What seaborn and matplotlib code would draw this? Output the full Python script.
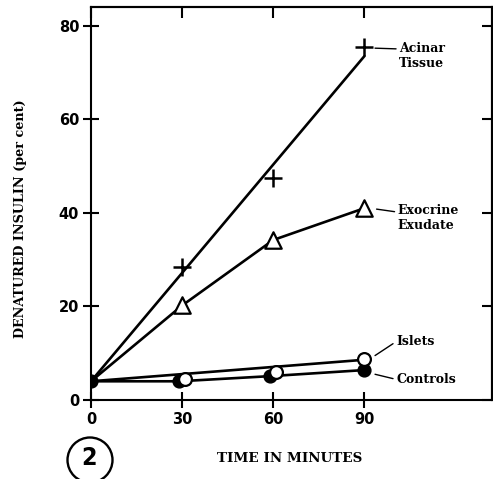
import matplotlib
matplotlib.use("Agg")
import matplotlib.pyplot as plt
import seaborn as sns
from matplotlib.patches import Ellipse

# Data
time = [0, 30, 60, 90]
acinar = [4, 28.5, 47.5, 75.5]
acinar_line_time = [0, 90]
acinar_line = [4, 73.5]
exocrine = [4, 20.2, 34.2, 41.0]
islets_time = [0, 31, 61, 90]
islets = [4, 4.5, 6.0, 8.8]
islets_line_time = [0, 90]
islets_line = [4, 8.6]
controls_time = [0, 29, 59, 90]
controls = [4, 4.0, 5.1, 6.4]

x_ticks = [0, 30, 60, 90]
y_ticks = [0, 20, 40, 60, 80]

sns.set_style("ticks")
plt.rcParams['font.family'] = ['DejaVu Serif']
plt.rcParams['text.color'] = 'black'
plt.rcParams['xtick.color'] = 'black'
plt.rcParams['ytick.color'] = 'black'
plt.rcParams['axes.edgecolor'] = 'black'

fig = plt.figure(figsize=(4.93, 4.79), dpi=100)
ax = fig.add_axes([91/493, 1-400/479, (492-91)/493, (400-7)/479])

lw = 1.9
k = "black"

# Acinar tissue
sns.lineplot(x=acinar_line_time, y=acinar_line, ax=ax, color=k, lw=lw)
sns.scatterplot(x=time[1:], y=acinar[1:], ax=ax, marker="+", s=150, color=k, linewidth=1.8, zorder=5)

# Exocrine exudate
sns.lineplot(x=time, y=exocrine, ax=ax, color=k, lw=lw)
sns.scatterplot(x=time[1:], y=exocrine[1:], ax=ax, marker="^", s=140, facecolor="white", edgecolor=k, linewidth=1.6, zorder=5)

# Controls
sns.lineplot(x=controls_time, y=controls, ax=ax, color=k, lw=lw)
sns.scatterplot(x=controls_time, y=controls, ax=ax, marker="o", s=85, color=k, edgecolor=k, linewidth=1, zorder=5)

# Islets
sns.lineplot(x=islets_line_time, y=islets_line, ax=ax, color=k, lw=lw)
sns.scatterplot(x=islets_time[1:], y=islets[1:], ax=ax, marker="o", s=85, facecolor="white", edgecolor=k, linewidth=1.6, zorder=6)

ax.set_xlim(0, 132)
ax.set_ylim(0, 84)
ax.set_xticks(x_ticks)
ax.set_yticks(y_ticks)
ax.set_xticklabels([str(t) for t in x_ticks], fontsize=10.5, fontweight="bold", family="DejaVu Sans")
ax.set_yticklabels([str(t) for t in y_ticks], fontsize=10.5, fontweight="bold", family="DejaVu Sans")
ax.tick_params(axis="both", direction="inout", length=11, width=1.5, color=k, pad=3)

for s in ax.spines.values():
    s.set_visible(True)
    s.set_linewidth(1.5)
    s.set_color(k)

sx = ax.secondary_xaxis("top")
sx.set_xticks(x_ticks)
sx.tick_params(direction="in", length=8, width=1.5, labeltop=False)
sx.spines["top"].set_linewidth(1.5)
sy = ax.secondary_yaxis("right")
sy.set_yticks(y_ticks)
sy.tick_params(direction="in", length=7, width=1.5, labelright=False)
sy.spines["right"].set_linewidth(1.5)

ax.set_xlabel("")
ax.set_ylabel("")

fs = 9
tw = "bold"
# Labels with leader lines
ax.annotate("Acinar\nTissue", xy=(93.5, 75.2), xytext=(101.5, 76.5), fontsize=fs, fontweight=tw,
            va="top", ha="left", linespacing=1.15,
            arrowprops=dict(arrowstyle="-", color=k, lw=1, shrinkA=0, shrinkB=0, relpos=(0, 0.75)))
ax.annotate("Exocrine\nExudate", xy=(94, 40.8), xytext=(101, 41.8), fontsize=fs, fontweight=tw,
            va="top", ha="left", linespacing=1.15,
            arrowprops=dict(arrowstyle="-", color=k, lw=1, shrinkA=0, shrinkB=0, relpos=(0, 0.72)))
ax.annotate("Islets", xy=(93.5, 9.5), xytext=(100.5, 12.5), fontsize=fs, fontweight=tw,
            va="center", ha="left",
            arrowprops=dict(arrowstyle="-", color=k, lw=1, shrinkA=0, shrinkB=0, relpos=(0, 0.5)))
ax.annotate("Controls", xy=(93.5, 5.5), xytext=(100.5, 4.4), fontsize=fs, fontweight=tw,
            va="center", ha="left",
            arrowprops=dict(arrowstyle="-", color=k, lw=1, shrinkA=0, shrinkB=0, relpos=(0, 0.5)))

fig.text(21/493, 1-219/479, "DENATURED INSULIN (per cent)", rotation=90, ha="center", va="center",
         fontsize=9.2, fontweight="bold")
fig.text(290/493, 1-458/479, "TIME IN MINUTES", ha="center", va="center", fontsize=9.7, fontweight="bold")

# Figure number in circle
fig.patches.append(Ellipse((90/493, 1-460/479), 45/493, 45/479, transform=fig.transFigure,
                           facecolor="none", edgecolor=k, lw=1.7))
fig.text(89.5/493, 1-458/479, "2", ha="center", va="center", fontsize=18, fontweight="bold",
         family="DejaVu Sans", fontstretch="condensed")

fig.savefig("out.png", dpi=100)
